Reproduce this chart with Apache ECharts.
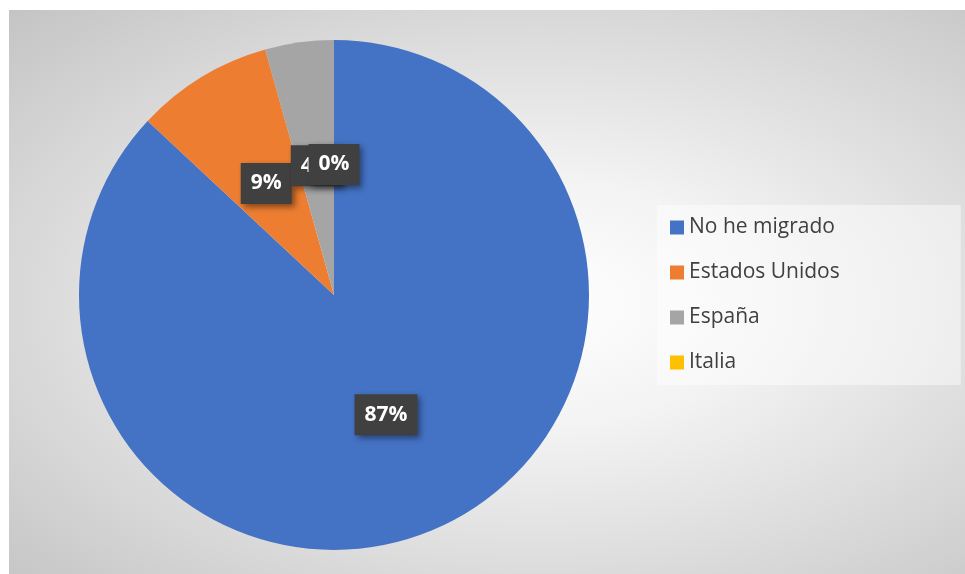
<!DOCTYPE html>
<html>
<head>
<meta charset="utf-8">
<script src="https://cdn.jsdelivr.net/npm/echarts@6/dist/echarts.min.js"></script>
<style>
  html, body { margin: 0; padding: 0; background: #fff; }
  #chart {
    position: absolute;
    left: 9px;
    top: 10px;
    width: 956px;
    height: 564px;
    background: radial-gradient(ellipse farthest-corner at 55% 52%, #ffffff 0%, #f3f3f3 30%, #c4c4c4 100%);
  }
</style>
</head>
<body>
<div id="chart"></div>
<script>
// migration destination (counts)
const categories = ['No he migrado', 'Estados Unidos', 'España', 'Italia']
const values = [20, 2, 1, 0]
const colors = ['#4472C4', '#ED7D31', '#A5A5A5', '#FFC000']

const chart = echarts.init(document.getElementById('chart'))

const option = {
  animation: false,
  color: colors,
  legend: {
    orient: 'vertical',
    left: 648,
    top: 195,
    padding: [12, 121, 12, 13],
    backgroundColor: 'rgba(255, 255, 255, 0.45)',
    itemWidth: 14,
    itemHeight: 14,
    itemGap: 24,
    icon: 'rect',
    textStyle: {
      color: '#404040',
      fontFamily: 'Open Sans',
      fontSize: 21
    },
    data: categories
  },
  series: [
    {
      type: 'pie',
      center: [325, 285],
      radius: 255,
      startAngle: 90,
      percentPrecision: 0,
      avoidLabelOverlap: false,
      labelLayout: { hideOverlap: false },
      label: {
        show: true,
        position: 'inside',
        formatter: '{d}%',
        color: '#fff',
        fontFamily: 'Open Sans',
        fontWeight: 'bold',
        fontSize: 21,
        lineHeight: 25,
        backgroundColor: '#404040',
        padding: [8, 10],
        shadowColor: 'rgba(0, 0, 0, 0.45)',
        shadowBlur: 6,
        shadowOffsetX: 3,
        shadowOffsetY: 3
      },
      labelLine: { show: false },
      emphasis: { disabled: true },
      data: categories.map((name, i) => ({ name, value: values[i] }))
    }
  ]
}

chart.setOption(option)
</script>
</body>
</html>
